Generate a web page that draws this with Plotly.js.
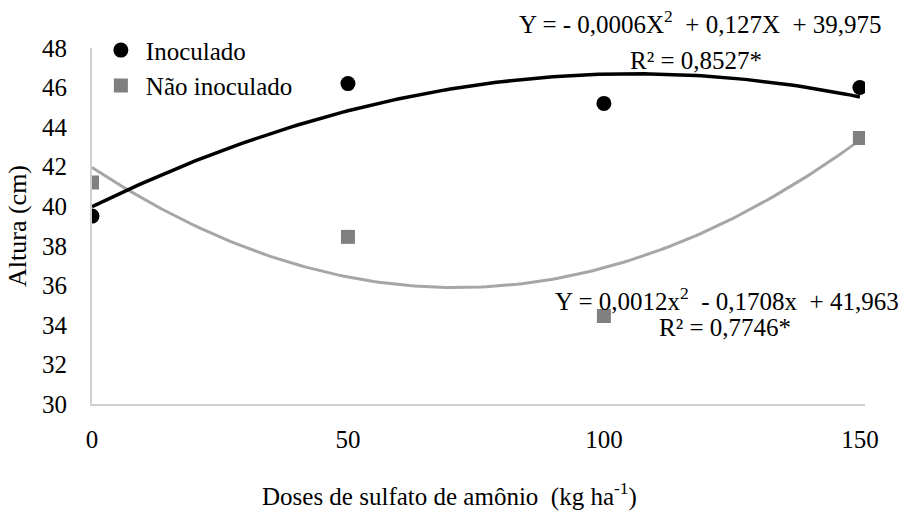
<!DOCTYPE html>
<html>
<head>
<meta charset="utf-8">
<script src="https://cdn.plot.ly/plotly-3.0.1.min.js"></script>
<style>html,body{margin:0;padding:0;background:#fff}#chart{width:901px;height:517px}</style>
</head>
<body>
<div id="chart"></div>
<script>
var doses = [0, 50, 100, 150];
var inoculado = [39.5, 46.2, 45.2, 46.0];
var naoInoculado = [41.2, 38.45, 34.45, 43.45];
// trend-line coefficients as printed on the chart: [a, b, c] for a*x^2 + b*x + c
var coefInoc = [-0.0006, 0.127, 39.975];
var coefNao = [0.0012, -0.1708, 41.963];
var xTicks = [0, 50, 100, 150];
var yTicks = [30, 32, 34, 36, 38, 40, 42, 44, 46, 48];

function trend(coef) {
  var xs = [], ys = [];
  for (var x = 0; x <= 150; x += 1) {
    xs.push(x);
    ys.push(coef[0] * x * x + coef[1] * x + coef[2]);
  }
  return {x: xs, y: ys};
}
var tI = trend(coefInoc), tN = trend(coefNao);
var FONT = 'Liberation Serif';

var data = [
  {x: tN.x, y: tN.y, mode: 'lines', line: {color: '#a6a6a6', width: 3}, showlegend: false, hoverinfo: 'skip'},
  {x: tI.x, y: tI.y, mode: 'lines', line: {color: '#000000', width: 3.5}, showlegend: false, hoverinfo: 'skip'},
  {x: doses, y: inoculado, mode: 'markers', name: 'Inoculado',
   marker: {symbol: 'circle', size: 15, color: '#000000'}},
  {x: doses, y: naoInoculado, mode: 'markers', name: 'Não inoculado',
   marker: {symbol: 'square', size: 14, color: '#808080'}}
];

var layout = {
  width: 901, height: 517,
  margin: {l: 92, r: 36, t: 48, b: 113},
  paper_bgcolor: '#ffffff', plot_bgcolor: '#ffffff',
  font: {family: FONT, size: 25, color: '#000000'},
  xaxis: {
    range: [0, 151], tickvals: xTicks, ticktext: xTicks.map(String),
    showgrid: false, zeroline: false, showline: true, linecolor: '#d0d0d0', linewidth: 2,
    ticks: '', ticklabelstandoff: 12,
    tickfont: {family: FONT, size: 25, color: '#000'}
  },
  yaxis: {
    range: [30, 48], tickvals: yTicks, ticktext: yTicks.map(String),
    showgrid: false, zeroline: false, showline: true, linecolor: '#d0d0d0', linewidth: 2,
    ticks: '', ticklabelstandoff: 18,
    tickfont: {family: FONT, size: 25, color: '#000'},
    title: {text: 'Altura (cm)', font: {family: FONT, size: 26, color: '#000'}, standoff: 8}
  },
  legend: {
    x: 0.005, y: 1.058, xanchor: 'left', yanchor: 'top',
    bgcolor: 'rgba(0,0,0,0)', font: {family: FONT, size: 25, color: '#000'},
    itemwidth: 40, tracegroupgap: 0
  },
  annotations: [
    {xref: 'paper', yref: 'paper', x: 0.462, y: -0.253, xanchor: 'center', yanchor: 'middle', showarrow: false,
     text: 'Doses de sulfato de amônio  (kg ha<sup>-1</sup>)', font: {family: FONT, size: 25, color: '#000'}},
    {xref: 'paper', yref: 'paper', x: 0.787, y: 1.074, xanchor: 'center', yanchor: 'middle', showarrow: false,
     text: 'Y = - 0,0006X<sup>2</sup>  + 0,127X  + 39,975', font: {family: FONT, size: 25, color: '#000'}},
    {xref: 'paper', yref: 'paper', x: 0.782, y: 0.966, xanchor: 'center', yanchor: 'middle', showarrow: false,
     text: 'R² = 0,8527*', font: {family: FONT, size: 25, color: '#000'}},
    {xref: 'paper', yref: 'paper', x: 0.821, y: 0.295, xanchor: 'center', yanchor: 'middle', showarrow: false,
     text: 'Y = 0,0012x<sup>2</sup>  - 0,1708x  + 41,963', font: {family: FONT, size: 25, color: '#000'}},
    {xref: 'paper', yref: 'paper', x: 0.819, y: 0.215, xanchor: 'center', yanchor: 'middle', showarrow: false,
     text: 'R² = 0,7746*', font: {family: FONT, size: 25, color: '#000'}}
  ]
};

Plotly.newPlot('chart', data, layout, {displayModeBar: false, staticPlot: true});
</script>
</body>
</html>
